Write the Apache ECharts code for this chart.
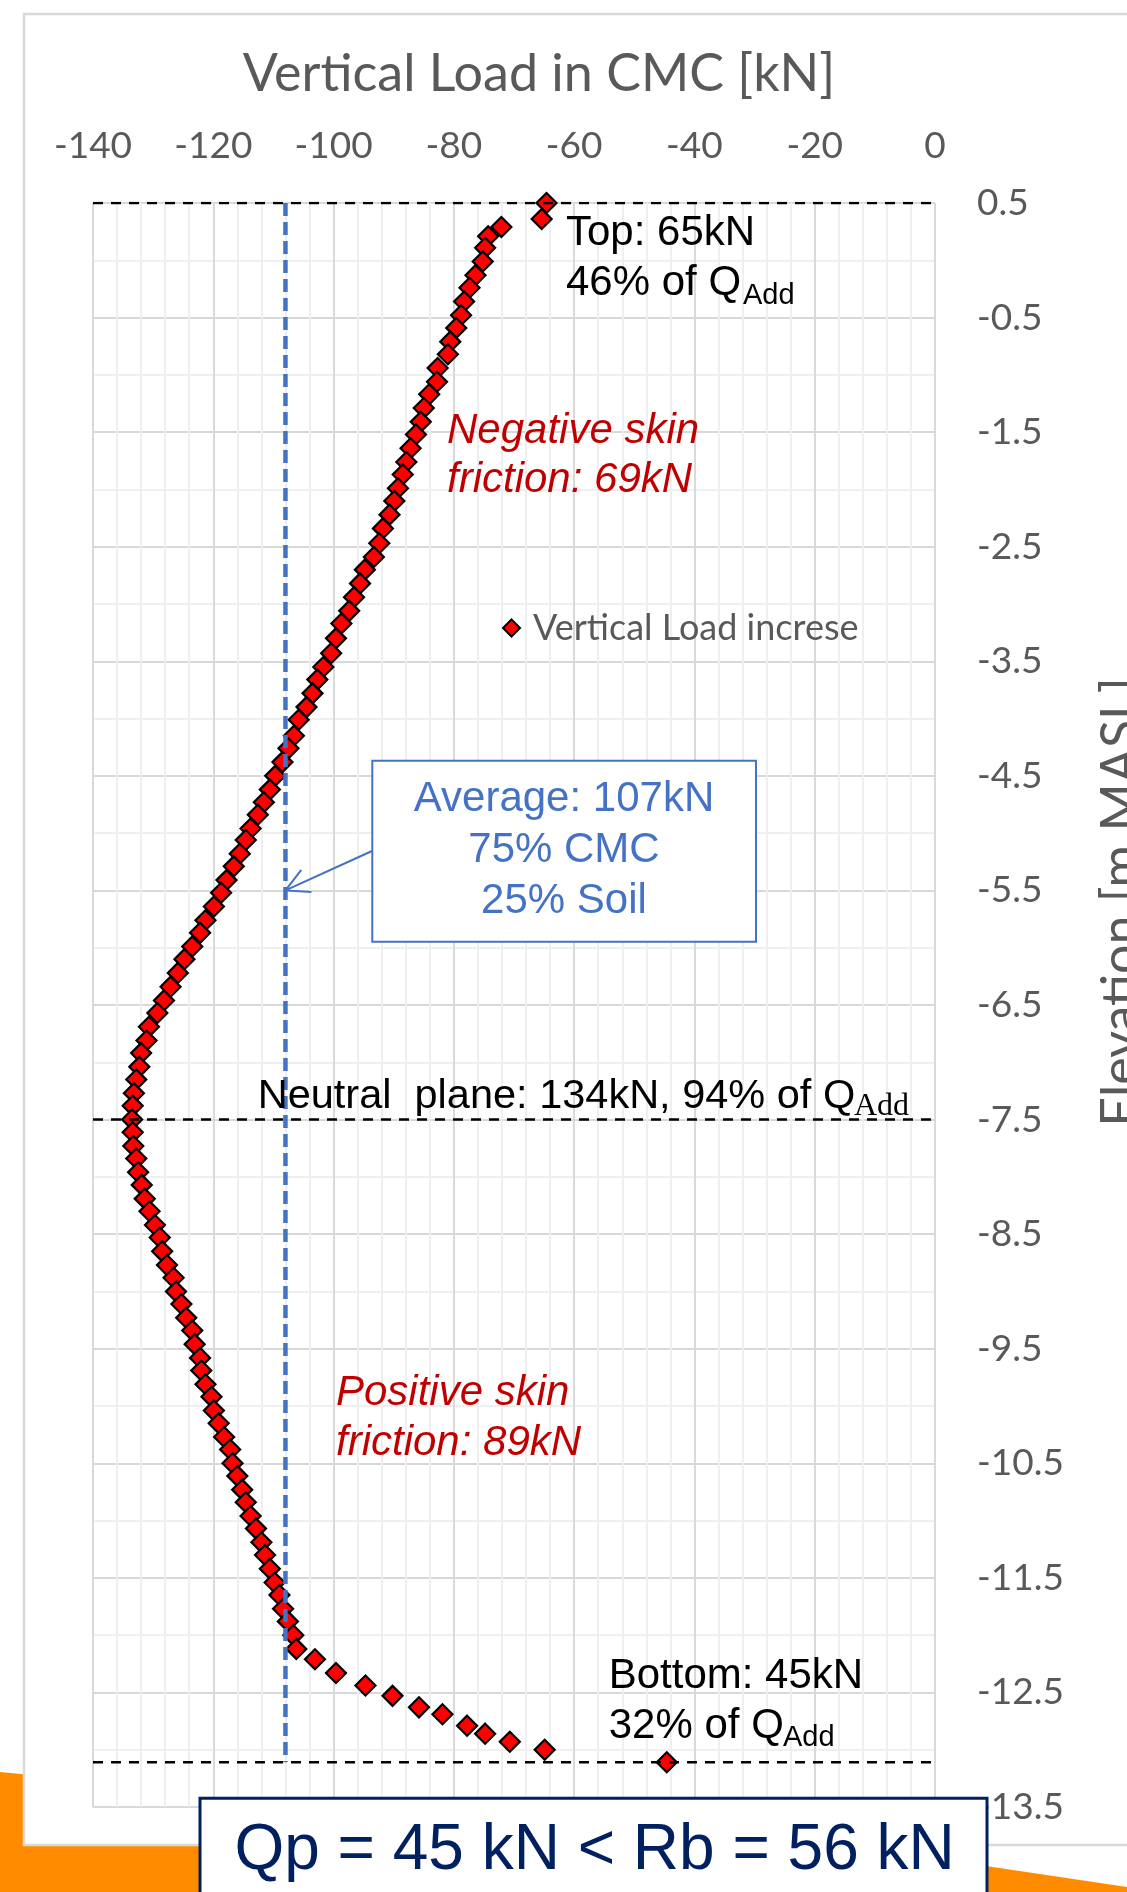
<!DOCTYPE html>
<html>
<head>
<meta charset="utf-8">
<title>Vertical Load in CMC</title>
<script src="https://cdn.jsdelivr.net/npm/echarts@6/dist/echarts.min.js"></script>
<style>
  html, body { margin: 0; padding: 0; background: #fff; }
  #main { width: 1127px; height: 1892px; }
</style>
</head>
<body>
<div id="main"></div>
<script>
// elevation of each computed point [m MASL]
var elevation = [
  0.50, 0.36, 0.29, 0.21, 0.11, -0.01, -0.13, -0.24, -0.36, -0.48,
  -0.59, -0.71, -0.82, -0.94, -1.06, -1.17, -1.29, -1.41, -1.52, -1.64,
  -1.76, -1.87, -1.99, -2.10, -2.22, -2.34, -2.47, -2.59, -2.70, -2.82,
  -2.94, -3.06, -3.17, -3.30, -3.43, -3.55, -3.66, -3.78, -3.90, -4.01,
  -4.15, -4.26, -4.38, -4.50, -4.62, -4.73, -4.84, -4.96, -5.06, -5.18,
  -5.29, -5.41, -5.52, -5.64, -5.76, -5.87, -5.99, -6.10, -6.22, -6.34,
  -6.46, -6.57, -6.69, -6.81, -6.92, -7.04, -7.15, -7.27, -7.38, -7.50,
  -7.61, -7.73, -7.84, -7.96, -8.07, -8.19, -8.30, -8.42, -8.53, -8.65,
  -8.77, -8.88, -9.00, -9.11, -9.23, -9.34, -9.46, -9.58, -9.69, -9.81,
  -9.92, -10.04, -10.15, -10.27, -10.38, -10.50, -10.61, -10.73, -10.84, -10.96,
  -11.07, -11.19, -11.30, -11.42, -11.54, -11.65, -11.77, -11.88, -12.00, -12.12,
  -12.21, -12.33, -12.44, -12.53, -12.63, -12.69, -12.79, -12.86, -12.93, -13.00, -13.11
]
// vertical load in the CMC [kN]
var load = [
  -64.6, -65.4, -72.1, -74.3, -74.8, -75.2, -76.4, -77.4, -78.3, -78.8,
  -79.6, -80.6, -81.0, -82.7, -82.8, -84.1, -85.0, -85.5, -86.3, -87.2,
  -87.9, -88.5, -89.3, -89.9, -90.7, -91.8, -92.4, -93.3, -94.8, -95.6,
  -96.6, -97.4, -98.7, -99.6, -100.4, -101.7, -102.7, -103.5, -104.5, -105.8,
  -106.6, -107.5, -108.5, -109.7, -110.6, -111.6, -112.6, -113.8, -114.6, -115.6,
  -116.6, -117.8, -118.7, -119.9, -121.3, -122.2, -123.5, -124.8, -125.9, -127.1,
  -128.2, -129.3, -130.7, -131.1, -132.0, -132.3, -132.8, -133.2, -133.4, -133.5,
  -133.4, -133.3, -132.8, -132.5, -131.9, -131.4, -130.6, -129.7, -128.9, -128.5,
  -127.7, -126.6, -126.2, -125.3, -124.5, -123.5, -123.1, -122.2, -122.0, -121.3,
  -120.3, -119.9, -119.1, -118.2, -117.2, -116.8, -116.0, -115.2, -114.6, -113.8,
  -112.9, -112.0, -111.4, -110.6, -109.8, -109.0, -108.4, -107.6, -106.7, -106.2,
  -103.1, -99.6, -94.7, -90.2, -85.8, -81.9, -77.8, -74.8, -70.7, -64.9, -44.6
]
// reference levels: pile top, neutral plane, pile toe [m]
var refLevels = [0.5, -7.5, -13.11]
// average load line [kN] and point the arrow points to
var avgLoad = -108
var avgArrowElev = -5.5
var xMin = -140
var xMax = 0

var grey = '#595959'
var blue = '#4472C4'
var red = '#C00000'
var navy = '#002060'
var arial = 'Liberation Sans'
var seriesName = 'Vertical Load increse'

var chart = echarts.init(document.getElementById('main'))

// text placed by its baseline (canvas 'middle' sits ~0.35em above it for Arial)
function txt (text, x, base, size, color, extra) {
  var k = (extra && extra.k) || 0.3465
  var style = {
    text: text,
    fontFamily: arial,
    fontSize: size,
    fill: color,
    align: 'left',
    verticalAlign: 'middle'
  }
  if (extra) {
    for (var p in extra) if (p !== 'k') style[p] = extra[p]
  }
  return { type: 'text', x: x, y: base - k * size, z: 20, style: style }
}

// a straight dashed guide line drawn as its own series
function guide (points, lineStyle) {
  return {
    type: 'line',
    data: points,
    symbol: 'none',
    silent: true,
    z: 4,
    lineStyle: lineStyle,
    emphasis: { disabled: true }
  }
}

var dashBlack = { color: '#000', width: 2.4, type: [10, 8] }
var dashBlue = { color: blue, width: 4.5, type: [13, 6] }

var series = [
  {
    name: seriesName,
    type: 'scatter',
    data: load.map(function (v, i) { return [v, elevation[i]] }),
    symbol: 'diamond',
    symbolSize: 20,
    itemStyle: { color: '#FF0000', borderColor: '#000', borderWidth: 2.2, opacity: 1 },
    z: 3
  }
]
refLevels.forEach(function (lv) {
  series.push(guide([[xMin, lv], [xMax, lv]], dashBlack))
})
series.push(guide([[avgLoad, refLevels[0]], [avgLoad, refLevels[2]]], dashBlue))

chart.setOption({
  animation: false,
  grid: { left: 93, right: 192, top: 203, bottom: 85 },
  legend: {
    data: [seriesName],
    left: 497,
    top: 605,
    icon: 'diamond',
    itemWidth: 17,
    itemHeight: 17,
    itemStyle: { color: '#FF0000', borderColor: '#000', borderWidth: 2 },
    textStyle: { fontFamily: 'Lato', fontSize: 36, color: grey, padding: [0, 0, 0, 8] }
  },
  xAxis: {
    type: 'value',
    position: 'top',
    min: xMin,
    max: xMax,
    interval: 20,
    axisLine: { show: false },
    axisTick: { show: false },
    axisLabel: { fontFamily: 'Lato', fontSize: 37, color: grey, margin: 38 },
    splitLine: { show: true, lineStyle: { color: '#d9d9d9', width: 2 } },
    minorTick: { show: false, splitNumber: 5 },
    minorSplitLine: { show: true, lineStyle: { color: '#efefef', width: 2 } }
  },
  yAxis: {
    type: 'value',
    position: 'right',
    min: -13.5,
    max: 0.5,
    interval: 1,
    axisLine: { show: false },
    axisTick: { show: false },
    axisLabel: { fontFamily: 'Lato', fontSize: 37, color: grey, margin: 42, align: 'left' },
    splitLine: { show: true, lineStyle: { color: '#d9d9d9', width: 2 } },
    minorTick: { show: false, splitNumber: 2 },
    minorSplitLine: { show: true, lineStyle: { color: '#efefef', width: 2 } }
  },
  series: series
})

// decorations and notes, placed once the axes are laid out
var tip = chart.convertToPixel({ seriesIndex: 0 }, [avgLoad, avgArrowElev])
var start = [372, 851]
var ang = Math.atan2(start[1] - tip[1], start[0] - tip[0])
var head = 26
var spread = 28 * Math.PI / 180
var wing1 = [tip[0] + head * Math.cos(ang - spread), tip[1] + head * Math.sin(ang - spread)]
var wing2 = [tip[0] + head * Math.cos(ang + spread), tip[1] + head * Math.sin(ang + spread)]

chart.setOption({
  graphic: [
    // orange page band and white card behind the plot
    {
      type: 'polygon', z: -20,
      shape: { points: [[0, 1772], [986, 1866], [1127, 1887], [1127, 1892], [0, 1892]] },
      style: { fill: '#FF8C00' }
    },
    {
      type: 'rect', z: -19,
      shape: { x: 24, y: 14, width: 1200, height: 1831 },
      style: { fill: '#fff', stroke: '#d9d9d9', lineWidth: 2.5 }
    },
    // axis titles
    txt('Vertical Load in CMC [kN]', 539, 92.7, 52, grey, { fontFamily: 'Lato', align: 'center', k: 0.36 }),
    {
      type: 'text', x: 1121, y: 902, rotation: Math.PI / 2, z: 20,
      style: {
        text: 'Elevation [m MASL]', fontFamily: 'Lato', fontSize: 52, fill: grey,
        align: 'center', verticalAlign: 'middle'
      }
    },
    // top
    txt('Top: 65kN', 566, 248.3, 42, '#000'),
    txt('46% of Q', 566, 298.3, 42, '#000'),
    txt('Add', 743, 306, 29, '#000'),
    // negative skin friction
    txt('Negative skin', 447, 445.7, 42, red, { fontStyle: 'italic' }),
    txt('friction: 69kN', 447, 495, 42, red, { fontStyle: 'italic' }),
    // average box
    {
      type: 'rect', z: 19,
      shape: { x: 372.3, y: 760.7, width: 383.7, height: 181 },
      style: { fill: '#fff', stroke: blue, lineWidth: 2 }
    },
    txt('Average: 107kN', 564, 814, 42, blue, { align: 'center' }),
    txt('75% CMC', 564, 865, 42, blue, { align: 'center' }),
    txt('25% Soil', 564, 916, 42, blue, { align: 'center' }),
    {
      type: 'polyline', z: 19,
      shape: { points: [start, tip] },
      style: { stroke: blue, lineWidth: 2, fill: null }
    },
    {
      type: 'polyline', z: 19,
      shape: { points: [wing1, tip, wing2] },
      style: { stroke: blue, lineWidth: 2, fill: null }
    },
    // neutral plane
    txt('Neutral  plane: 134kN, 94% of Q', 257.7, 1110.7, 41.5, '#000'),
    txt('Add', 854, 1118, 32, '#000', { fontFamily: 'Liberation Serif' }),
    // positive skin friction
    txt('Positive skin', 336, 1408.3, 42, red, { fontStyle: 'italic' }),
    txt('friction: 89kN', 336, 1458.3, 42, red, { fontStyle: 'italic' }),
    // bottom
    txt('Bottom: 45kN', 608.7, 1690.7, 42, '#000'),
    txt('32% of Q', 608.7, 1740.7, 42, '#000'),
    txt('Add', 783, 1748, 29, '#000'),
    // conclusion box
    {
      type: 'rect', z: 30,
      shape: { x: 200, y: 1798.3, width: 787, height: 120 },
      style: { fill: '#fff', stroke: navy, lineWidth: 3 }
    },
    Object.assign(txt('Qp = 45 kN < Rb = 56 kN', 234.4, 1873.3, 64, navy), { z: 31 })
  ]
})
</script>
</body>
</html>
